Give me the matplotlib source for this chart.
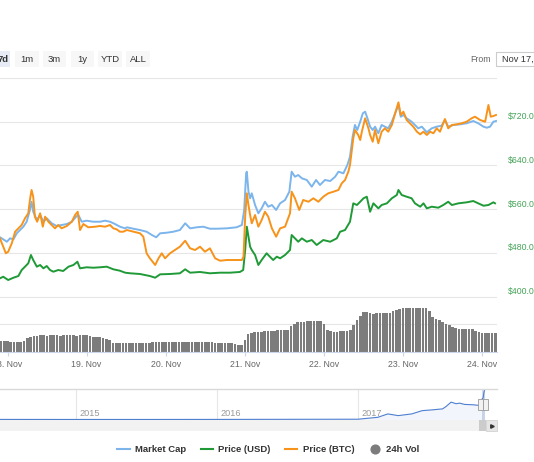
import numpy as np
import pandas as pd
import matplotlib
matplotlib.use("Agg")
import matplotlib.pyplot as plt
import matplotlib.dates as mdates
import matplotlib.transforms as mtransforms
from matplotlib.patches import Rectangle
from matplotlib.lines import Line2D

plt.rcParams['font.family'] = ['Liberation Sans', 'DejaVu Sans']

BASE = pd.Timestamp("2017-11-18")

# market cap, billions USD (hidden axis) - hours after 18 Nov 00:00
mcap_hours = [-2.3, -1.3, -0.2, 0.8, 1.8, 2.8, 3.8, 4.8, 5.8, 6.8, 7.3, 7.8, 8.9, 9.9, 10.9, 11.9,
              13.4, 14.9, 16.4, 18.0, 19.5, 20.8, 21.5, 22.5, 24.0, 26.0, 28.1, 29.6, 31.1, 32.6,
              34.1, 35.7, 36.2, 38.2, 40.2, 42.2, 43.8, 45.1, 46.3, 48.3, 50.3, 52.3, 53.9, 55.4,
              57.4, 59.4, 61.4, 63.5, 66.5, 69.5, 71.1, 71.8, 72.4, 72.6, 73.1, 73.6, 74.1, 75.1,
              76.1, 77.1, 78.1, 79.1, 80.2, 81.5, 82.7, 84.2, 85.5, 86.2, 87.2, 88.2, 89.3, 90.8,
              92.3, 93.6, 94.8, 96.3, 97.9, 99.4, 100.4, 101.9, 103.1, 103.9, 104.7, 105.4, 106.1,
              107.0, 107.8, 108.5, 109.2, 110.0, 110.8, 111.5, 112.5, 113.5, 114.5, 115.5, 116.6,
              117.6, 118.6, 119.3, 120.1, 121.1, 122.6, 123.6, 124.6, 125.7, 127.2, 128.7, 130.2,
              131.7, 132.7, 133.7, 135.3, 137.3, 139.3, 141.3, 142.8, 144.4, 145.4, 146.4, 147.4, 148.2]
mcap_vals = [5.084, 5.047, 5.003, 5.065, 5.047, 5.157, 5.217, 5.278, 5.369, 5.584, 5.735, 5.552,
             5.400, 5.492, 5.369, 5.432, 5.340, 5.291, 5.309, 5.327, 5.369, 5.461, 5.492, 5.369,
             5.388, 5.369, 5.369, 5.388, 5.369, 5.327, 5.278, 5.248, 5.267, 5.241, 5.217, 5.186,
             5.126, 5.084, 5.157, 5.168, 5.186, 5.217, 5.340, 5.248, 5.267, 5.278, 5.241, 5.241,
             5.248, 5.267, 5.309, 5.584, 6.255, 6.285, 5.919, 5.798, 5.889, 5.675, 5.523, 5.614,
             5.735, 5.644, 5.675, 5.584, 5.706, 5.767, 5.919, 6.285, 6.193, 6.224, 6.164, 6.133,
             6.010, 6.133, 6.041, 6.133, 6.114, 6.193, 6.285, 6.255, 6.407, 6.559, 6.925, 7.140,
             7.048, 7.200, 7.354, 7.383, 7.262, 7.109, 7.048, 7.109, 6.988, 7.140, 7.109, 7.079,
             7.200, 7.354, 7.506, 7.292, 7.323, 7.262, 7.200, 7.140, 7.079, 7.109, 7.006, 7.079,
             7.109, 7.127, 7.231, 7.109, 7.140, 7.152, 7.171, 7.213, 7.171, 7.109, 7.090, 7.109,
             7.200, 7.213]

# price in USD
usd_hours = [-2.3, -1.3, 0.2, 1.8, 3.3, 4.3, 5.3, 6.3, 7.1, 7.8, 8.9, 9.9, 10.9, 11.9, 12.9, 13.9,
             15.4, 16.9, 18.5, 20.0, 21.2, 22.0, 24.0, 26.0, 28.1, 30.1, 32.1, 34.1, 35.7, 37.2,
             40.2, 43.2, 44.8, 46.3, 49.3, 52.3, 53.9, 55.4, 58.4, 61.4, 64.5, 67.5, 70.5, 71.5,
             72.1, 72.6, 73.1, 73.6, 74.1, 75.1, 76.1, 77.1, 78.6, 79.6, 80.6, 81.7, 82.7, 84.2,
             85.7, 86.2, 87.2, 88.2, 89.3, 90.8, 92.3, 93.8, 95.8, 97.9, 99.9, 100.9, 102.4, 103.9,
             104.9, 106.0, 107.0, 108.0, 109.0, 110.0, 111.0, 112.5, 113.5, 115.1, 116.6, 118.1,
             118.6, 119.6, 121.1, 122.6, 123.6, 125.2, 126.2, 127.2, 128.7, 130.7, 132.2, 133.7,
             134.8, 136.8, 139.3, 141.3, 142.8, 144.4, 145.9, 147.4, 147.9]
usd_vals = [433.3, 436.2, 430.2, 434.4, 437.5, 448.5, 454.6, 460.8, 476.0, 466.8, 454.6, 457.7,
            451.6, 455.8, 448.5, 445.4, 448.5, 446.7, 454.6, 457.7, 463.7, 451.6, 453.5, 452.7,
            453.5, 454.6, 449.8, 447.2, 443.6, 442.5, 441.2, 437.5, 434.4, 440.6, 441.2, 442.5,
            449.8, 443.6, 444.9, 442.5, 443.6, 443.6, 444.9, 448.5, 485.1, 527.8, 509.5, 491.2,
            485.1, 476.0, 457.7, 466.8, 479.1, 472.9, 466.8, 472.9, 469.9, 476.0, 485.1, 512.6,
            506.5, 500.3, 506.5, 500.3, 503.4, 494.3, 503.4, 500.3, 506.5, 518.6, 521.7, 536.9,
            570.6, 567.5, 573.5, 579.8, 582.7, 555.2, 570.6, 561.4, 567.5, 570.6, 579.8, 585.8,
            595.0, 585.8, 582.7, 579.8, 570.6, 564.4, 570.6, 561.4, 564.4, 562.6, 567.5, 573.5,
            567.5, 570.6, 572.4, 574.8, 570.6, 566.2, 567.5, 572.4, 570.6]

# price in BTC (hidden axis)
btc_hours = [-2.3, -1.3, -0.5, 0.2, 1.3, 2.3, 3.3, 4.3, 5.3, 6.3, 6.8, 7.3, 7.8, 8.3, 9.0, 9.9,
             10.7, 11.4, 12.4, 13.4, 14.4, 15.4, 16.4, 18.0, 19.5, 20.5, 21.3, 22.0, 23.0, 24.5,
             26.6, 28.1, 29.6, 31.1, 32.1, 33.1, 34.1, 35.1, 36.2, 38.2, 40.2, 41.2, 42.2, 43.2,
             44.8, 45.8, 46.8, 47.8, 49.3, 50.8, 52.3, 53.9, 55.4, 56.9, 58.4, 59.9, 61.4, 63.0,
             64.5, 66.5, 69.0, 71.1, 71.6, 72.1, 72.6, 73.1, 73.6, 74.1, 75.1, 76.1, 77.1, 78.1,
             79.1, 80.2, 81.5, 82.7, 84.2, 85.7, 86.2, 87.2, 88.5, 89.7, 91.3, 92.8, 94.3, 95.8,
             97.3, 98.9, 100.4, 101.4, 102.4, 103.4, 103.9, 104.9, 105.4, 106.4, 107.0, 107.5,
             108.5, 109.5, 110.0, 110.8, 111.5, 112.5, 113.5, 114.5, 115.5, 116.6, 117.6, 118.6,
             119.3, 120.1, 121.1, 122.1, 123.1, 124.2, 125.2, 126.2, 127.2, 128.2, 129.2, 130.2,
             131.2, 132.2, 132.7, 133.7, 134.8, 136.3, 137.8, 139.3, 140.8, 141.8, 143.4, 144.9,
             145.9, 146.6, 147.4, 148.2]
btc_vals = [0.05065, 0.04912, 0.04791, 0.04820, 0.04974, 0.05186, 0.05248, 0.05309, 0.05431,
            0.05523, 0.05767, 0.05950, 0.05827, 0.05461, 0.05369, 0.05523, 0.05278, 0.05461,
            0.05369, 0.05309, 0.05248, 0.05309, 0.05248, 0.05291, 0.05369, 0.05492, 0.05552,
            0.05217, 0.05327, 0.05267, 0.05278, 0.05291, 0.05278, 0.05309, 0.05248, 0.05230,
            0.05186, 0.05186, 0.05217, 0.05186, 0.05157, 0.05095, 0.04791, 0.04699, 0.04577,
            0.04699, 0.04791, 0.04699, 0.04791, 0.04851, 0.04912, 0.05021, 0.04882, 0.04851,
            0.04912, 0.04820, 0.04882, 0.04699, 0.04655, 0.04668, 0.04668, 0.04668, 0.04729,
            0.05461, 0.05889, 0.05675, 0.05492, 0.05340, 0.05492, 0.05278, 0.05400, 0.05552,
            0.05461, 0.05248, 0.05095, 0.05248, 0.05278, 0.05523, 0.05919, 0.05798, 0.05584,
            0.05767, 0.05735, 0.05798, 0.05735, 0.05827, 0.05889, 0.05919, 0.05950, 0.06072,
            0.06133, 0.06285, 0.06407, 0.06896, 0.07048, 0.06957, 0.06865, 0.07017, 0.07262,
            0.07079, 0.06957, 0.06834, 0.07048, 0.06805, 0.07017, 0.07079, 0.07017, 0.07140,
            0.07354, 0.07555, 0.07323, 0.07383, 0.07231, 0.07171, 0.07109, 0.07017, 0.06969,
            0.07017, 0.06957, 0.07017, 0.06988, 0.07079, 0.07017, 0.07171, 0.07249, 0.07079,
            0.07140, 0.07152, 0.07171, 0.07200, 0.07262, 0.07292, 0.07231, 0.07200, 0.07506,
            0.07292, 0.07304, 0.07323]

# 24h volume, millions USD, one bar per hour from -2h to +148h
vol_vals = [55, 55, 55, 48, 48, 52, 52, 55, 72, 75, 80,
            82, 83, 83, 82, 83, 83, 83, 82, 83, 83, 83, 83, 82, 83, 83, 83, 82,
            75, 75, 75, 68, 63, 60,
            47, 47, 46, 47, 47, 47, 47, 46, 47, 47, 47, 47,
            48, 48, 49, 49, 48, 48, 48, 49, 49, 48, 48, 48, 48, 49, 48, 48, 48, 48, 48,
            47, 47, 47, 47, 46, 45,
            40, 37, 37,
            60, 92, 97, 98, 100, 102, 105, 105, 105, 107, 110, 110, 110, 112,
            130, 142, 150, 152, 152, 155, 156, 156, 156, 155,
            140, 112, 105, 100, 100, 105, 106, 106, 110,
            135, 162, 180, 200, 202, 195, 192, 193, 193, 193, 195, 197,
            205, 212, 215, 220, 221, 221, 220, 222, 221, 221, 220,
            205, 175, 167, 160, 150, 142, 137, 127, 120, 117, 117, 117, 116, 115,
            107, 102, 97, 96, 96, 96, 96]
vol_hours = np.arange(-2, -2 + len(vol_vals))

# navigator: market cap history, billions USD
nav_dates = ["2014-02-01", "2014-06-01", "2015-01-01", "2015-06-01", "2016-01-01", "2016-06-01",
             "2016-12-31", "2017-02-20", "2017-03-18", "2017-04-14", "2017-05-19", "2017-06-15",
             "2017-07-11", "2017-08-07", "2017-08-16", "2017-08-29", "2017-09-11", "2017-09-20",
             "2017-10-03", "2017-10-25", "2017-11-12", "2017-11-18", "2017-11-20", "2017-11-22",
             "2017-11-24"]
nav_mcap = [0.02, 0.04, 0.03, 0.03, 0.04, 0.06, 0.09, 0.55, 1.37, 0.96, 1.37, 2.16, 2.35, 2.59,
            3.17, 4.22, 3.84, 3.98, 3.67, 3.58, 3.41, 5.1, 5.2, 6.5, 7.2]

price_ticks = [400, 480, 560, 640, 720, 800]
day_ticks = ["2017-11-18", "2017-11-19", "2017-11-20", "2017-11-21", "2017-11-22", "2017-11-23", "2017-11-24"]
year_ticks = ["2015-01-01", "2016-01-01", "2017-01-01"]
buttons = ["7d", "1m", "3m", "1y", "YTD", "ALL"]
legend_labels = ["Market Cap", "Price (USD)", "Price (BTC)", "24h Vol"]

BLUE = "#7cb5ec"
GREEN = "#1f9a37"
ORANGE = "#f7931a"
GREY = "#7c7c7c"


def to_time(hours):
    return BASE + pd.to_timedelta(np.asarray(hours, dtype=float), unit="h")


W, H = 534, 462
fig = plt.figure(figsize=(W / 100, H / 100), dpi=100)
fig.patch.set_facecolor("white")


def fx(x):
    return x / W


def fy(y):
    return 1 - y / H


t0 = BASE + pd.Timedelta(hours=-2.28)
t1 = BASE + pd.Timedelta(hours=148.5)

# ---- main price panel
ax = fig.add_axes([0, fy(300), fx(497), 228 / H])
ax.patch.set_alpha(0)
ax.set_xlim(t0, t1)
ax.set_ylim(393.6, 811)
ax.set_yticks(price_ticks)
ax.set_yticklabels([])
ax.set_xticks([])
ax.tick_params(length=0)
ax.grid(axis="y", color="#e6e6e6", lw=0.8)
for s in ax.spines.values():
    s.set_visible(False)

lab_tr = mtransforms.offset_copy(mtransforms.blended_transform_factory(ax.transAxes, ax.transData),
                                 fig=fig, x=11, y=5, units="dots")
for v in price_ticks[:-1]:
    ax.text(1, v, f"${v:.2f}", transform=lab_tr, ha="left", va="center",
            fontsize=6.3, color="#45a457", clip_on=False)

ax.plot(to_time(usd_hours), usd_vals, color=GREEN, lw=1.4)

ax_mc = ax.twinx()
ax_mc.set_ylim(3.936, 8.11)
ax_mc.axis("off")
ax_mc.plot(to_time(mcap_hours), mcap_vals, color=BLUE, lw=1.4)

ax_btc = ax.twinx()
ax_btc.set_ylim(0.03936, 0.0811)
ax_btc.axis("off")
ax_btc.plot(to_time(btc_hours), btc_vals, color=ORANGE, lw=1.4)

# ---- volume panel
axv = fig.add_axes([0, fy(352), fx(497), 56 / H])
axv.patch.set_alpha(0)
axv.set_xlim(t0, t1)
axv.set_ylim(0, 280)
axv.bar(to_time(vol_hours), vol_vals, width=0.8 / 24, color=GREY, align="center")
axv.set_axisbelow(True)
axv.set_yticks([140])
axv.set_yticklabels([])
axv.grid(axis="y", color="#e6e6e6", lw=0.8)
axv.tick_params(axis="y", length=0)
for k, s in axv.spines.items():
    s.set_visible(k == "bottom")
axv.spines["bottom"].set_color("#ccd6eb")
axv.spines["bottom"].set_linewidth(0.8)
axv.set_xticks(pd.to_datetime(day_ticks))
axv.xaxis.set_major_formatter(mdates.DateFormatter("%d. %b"))
axv.tick_params(axis="x", length=3, width=0.8, color="#ccd6eb", pad=2.5,
                labelsize=6.3, labelcolor="#666666")

# ---- navigator
axn = fig.add_axes([0, fy(420), fx(497), 30.6 / H])
axn.set_xlim(pd.Timestamp("2014-06-17"), pd.Timestamp("2017-12-26"))
axn.set_ylim(-0.1, 7.3)
nd = pd.to_datetime(nav_dates)
axn.plot(nd, nav_mcap, color="#4f7fd0", lw=0.8)
axn.fill_between(nd, nav_mcap, -0.1, color="#4f7fd0", alpha=0.07, lw=0)
axn.set_xticks(pd.to_datetime(year_ticks))
axn.set_xticklabels([])
axn.set_yticks([])
axn.tick_params(length=0)
axn.grid(axis="x", color="#e6e6e6", lw=0.8)
for k, s in axn.spines.items():
    s.set_visible(k == "top")
axn.spines["top"].set_color("#d9d9d9")
axn.spines["top"].set_linewidth(1.0)
yr_tr = mtransforms.offset_copy(mtransforms.blended_transform_factory(axn.transData, axn.transAxes),
                                fig=fig, x=3, y=0, units="dots")
for d in year_ticks:
    axn.text(pd.Timestamp(d), 0.22, d[:4], transform=yr_tr, fontsize=6.6, color="#999999",
             ha="left", va="center")
axn.axvspan(pd.Timestamp("2017-11-17 12:00"), pd.Timestamp("2017-11-24 06:00"),
            color=(0.4, 0.52, 0.76, 0.3), lw=0)

for hx in (478.0, 483.0):
    fig.add_artist(Rectangle((fx(hx), fy(410)), fx(5), 11 / H, transform=fig.transFigure,
                             fc="#f2f2f2", ec="#999999", lw=0.6))

# scrollbar
fig.add_artist(Rectangle((0, fy(431)), fx(480), 11 / H, transform=fig.transFigure,
                         fc="#f2f2f2", ec="none"))
fig.add_artist(Rectangle((fx(479), fy(431)), fx(7), 11 / H, transform=fig.transFigure,
                         fc="#cccccc", ec="none"))
fig.add_artist(Rectangle((fx(486), fy(431)), fx(11), 11 / H, transform=fig.transFigure,
                         fc="#e6e6e6", ec="#cccccc", lw=0.5))
fig.add_artist(Line2D([fx(491.5)], [fy(425.5)], marker=">", ms=2.5, color="#333333",
                      transform=fig.transFigure))

# ---- range buttons
btn_x = [(-7, 10.2), (15.3, 38.5), (42.6, 66.4), (70.5, 94.3), (98, 122), (126, 150)]
for name, (x0, x1) in zip(buttons, btn_x):
    sel = name == "7d"
    fig.add_artist(Rectangle((fx(x0), fy(67)), fx(x1 - x0), 16 / H, transform=fig.transFigure,
                             fc="#e6ebf5" if sel else "#f7f7f7", ec="none"))
    fig.text(fx((x0 + x1) / 2 + (1.5 if sel else 0)), fy(59), name, ha="center", va="center",
             fontsize=6.8, color="#333333", fontweight="bold" if sel else "normal")

fig.text(fx(470), fy(59), "From", ha="left", va="center", fontsize=6.3, color="#666666")
fig.add_artist(Rectangle((fx(495.6), fy(65.5)), fx(60), 13.5 / H, transform=fig.transFigure,
                         fc="white", ec="#cccccc", lw=0.8))
fig.text(fx(502), fy(59), "Nov 17, 2017", ha="left", va="center", fontsize=6.6, color="#333333")

# ---- legend
handles = [Line2D([], [], color=BLUE, lw=1.5),
           Line2D([], [], color=GREEN, lw=1.5),
           Line2D([], [], color=ORANGE, lw=1.5),
           Line2D([], [], color=GREY, marker="o", ls="none", ms=6.3)]
fig.legend(handles, legend_labels, loc="center", bbox_to_anchor=(fx(268.5), fy(449.4)),
           ncol=4, frameon=False, prop={"weight": "bold", "size": 6.8}, labelcolor="#333333",
           handlelength=1.3, handletextpad=0.55, columnspacing=1.55, borderaxespad=0, borderpad=0)

fig.savefig("out.png", dpi=100)
